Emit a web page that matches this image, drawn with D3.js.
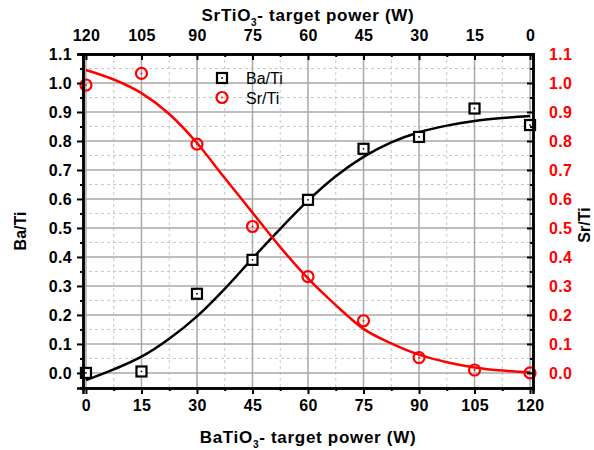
<html>
<head>
  <script src="https://cdnjs.cloudflare.com/ajax/libs/d3/7.8.5/d3.min.js"></script>
  <style>
    body { margin: 0; background: #fff; }
    text { font-family: "Liberation Sans", Arial, sans-serif; }
  </style>
</head>
<body>
  <script>
    // measured points
    const power = [0, 15, 30, 45, 60, 75, 90, 105, 120];
    const baTi = [0.0, 0.005, 0.273, 0.39, 0.597, 0.773, 0.814, 0.912, 0.855];
    const srTi = [0.993, 1.033, 0.789, 0.505, 0.332, 0.18, 0.053, 0.01, 0.0];

    // fitted curves
    const fitX = [0, 7.5, 15, 22.5, 30, 37.5, 45, 52.5, 60, 67.5, 75, 82.5, 90, 97.5, 105, 112.5, 120];
    const baFit = [-0.025, 0.012, 0.056, 0.118, 0.195, 0.29, 0.395, 0.497, 0.594, 0.678, 0.745, 0.795, 0.83, 0.853, 0.869, 0.879, 0.886];
    const srFit = [1.045, 1.012, 0.965, 0.893, 0.793, 0.672, 0.553, 0.434, 0.326, 0.234, 0.152, 0.102, 0.063, 0.037, 0.019, 0.008, 0.002];

    const xTicks = [0, 15, 30, 45, 60, 75, 90, 105, 120];
    const yTicks = [0, 0.1, 0.2, 0.3, 0.4, 0.5, 0.6, 0.7, 0.8, 0.9, 1.0, 1.1];

    const width = 594, height = 450;
    const margin = { top: 54, right: 61, bottom: 62, left: 83 };
    const iw = width - margin.left - margin.right;
    const ih = height - margin.top - margin.bottom;

    const svg = d3.select( "body" )
      .append( "svg" )
      .attr( "width", width )
      .attr( "height", height );

    const g = svg.append( "g" )
      .attr( "transform", `translate(${margin.left},${margin.top})` );

    const x = d3.scaleLinear().domain( [-0.8, 120.8] ).range( [0, iw] );
    const xTop = d3.scaleLinear().domain( [120.8, -0.8] ).range( [0, iw] );
    const y = d3.scaleLinear().domain( [-0.052, 1.1] ).range( [ih, 0] );

    const xMinor = d3.range( 7.5, 120, 15 );
    const yMinor = d3.range( 0, 11 ).map( i => +(0.05 + i * 0.1).toFixed( 2 ) );
    yMinor.push( -0.05 );

    // grid
    const grid = g.append( "g" );
    grid.selectAll( ".vminor" ).data( xMinor ).enter().append( "line" )
      .attr( "x1", d => x( d ) ).attr( "x2", d => x( d ) )
      .attr( "y1", 0 ).attr( "y2", ih )
      .attr( "stroke", "#c8c8c8" ).attr( "stroke-dasharray", "3,3" );
    grid.selectAll( ".hminor" ).data( yMinor ).enter().append( "line" )
      .attr( "y1", d => y( d ) ).attr( "y2", d => y( d ) )
      .attr( "x1", 0 ).attr( "x2", iw )
      .attr( "stroke", "#c8c8c8" ).attr( "stroke-dasharray", "3,3" );
    grid.selectAll( ".vmajor" ).data( xTicks ).enter().append( "line" )
      .attr( "x1", d => x( d ) ).attr( "x2", d => x( d ) )
      .attr( "y1", 0 ).attr( "y2", ih )
      .attr( "stroke", "#a8a8a8" ).attr( "stroke-width", 1.5 );
    grid.selectAll( ".hmajor" ).data( yTicks ).enter().append( "line" )
      .attr( "y1", d => y( d ) ).attr( "y2", d => y( d ) )
      .attr( "x1", 0 ).attr( "x2", iw )
      .attr( "stroke", "#a8a8a8" ).attr( "stroke-width", 1.5 );

    // fit curves
    const line = vals => d3.line()
      .x( ( d, i ) => x( fitX[i] ) )
      .y( d => y( d ) )
      .curve( d3.curveMonotoneX )( vals );

    g.append( "path" ).attr( "d", line( baFit ) )
      .attr( "fill", "none" ).attr( "stroke", "#000" ).attr( "stroke-width", 2.5 );
    g.append( "path" ).attr( "d", line( srFit ) )
      .attr( "fill", "none" ).attr( "stroke", "#f00" ).attr( "stroke-width", 2.5 );

    // markers
    const sq = g.append( "g" );
    sq.selectAll( "rect" ).data( power ).enter().append( "rect" )
      .attr( "x", ( d, i ) => x( d ) - 5 ).attr( "y", ( d, i ) => y( baTi[i] ) - 5 )
      .attr( "width", 10 ).attr( "height", 10 )
      .attr( "fill", "#fff" ).attr( "stroke", "#000" ).attr( "stroke-width", 2.2 );
    sq.selectAll( "circle" ).data( power ).enter().append( "circle" )
      .attr( "cx", d => x( d ) ).attr( "cy", ( d, i ) => y( baTi[i] ) )
      .attr( "r", 0.9 ).attr( "fill", "#000" );

    const ci = g.append( "g" );
    ci.selectAll( ".ring" ).data( power ).enter().append( "circle" )
      .attr( "cx", d => x( d ) ).attr( "cy", ( d, i ) => y( srTi[i] ) )
      .attr( "r", 5.5 ).attr( "fill", "none" )
      .attr( "stroke", "#f00" ).attr( "stroke-width", 2.2 );
    ci.selectAll( ".dot" ).data( power ).enter().append( "circle" )
      .attr( "cx", d => x( d ) ).attr( "cy", ( d, i ) => y( srTi[i] ) )
      .attr( "r", 0.9 ).attr( "fill", "#f00" );

    // axes
    const fmt = d3.format( ".1f" );
    const styleAxis = ( sel, color ) => {
      sel.selectAll( "text" )
        .style( "font-family", "'Liberation Sans', Arial, sans-serif" )
        .style( "font-size", "16px" ).style( "font-weight", "bold" )
        .style( "letter-spacing", "0.3px" )
        .attr( "fill", color || "#000" );
      sel.selectAll( "line" ).attr( "stroke", "#000" ).attr( "stroke-width", 2 );
      sel.select( ".domain" ).attr( "stroke", "#000" ).attr( "stroke-width", 2.5 );
    };

    const minorAxis = ( axisFn, scale, vals, len ) =>
      axisFn( scale ).tickValues( vals ).tickSize( len ).tickFormat( "" );

    // bottom
    g.append( "g" ).attr( "transform", `translate(0,${ih})` )
      .call( minorAxis( d3.axisBottom, x, xMinor, 3 ) ).call( styleAxis );
    g.append( "g" ).attr( "transform", `translate(0,${ih})` )
      .call( d3.axisBottom( x ).tickValues( xTicks ).tickSize( 6 ).tickPadding( 6 ) )
      .call( styleAxis );

    // top (reversed)
    g.append( "g" )
      .call( minorAxis( d3.axisBottom, xTop, xMinor, 3 ) ).call( styleAxis );
    g.append( "g" )
      .call( d3.axisTop( xTop ).tickValues( xTicks ).tickSize( -6 ).tickPadding( 13 ) )
      .call( styleAxis );

    // left
    g.append( "g" )
      .call( minorAxis( d3.axisLeft, y, yMinor, 3 ) ).call( styleAxis );
    g.append( "g" )
      .call( d3.axisLeft( y ).tickValues( yTicks ).tickSize( 6 ).tickPadding( 5 ).tickFormat( fmt ) )
      .call( styleAxis );

    // right
    g.append( "g" ).attr( "transform", `translate(${iw},0)` )
      .call( minorAxis( d3.axisLeft, y, yMinor, 3 ) ).call( styleAxis );
    g.append( "g" ).attr( "transform", `translate(${iw},0)` )
      .call( d3.axisRight( y ).tickValues( yTicks ).tickSize( -6 ).tickPadding( 16 ).tickFormat( fmt ) )
      .call( sel => styleAxis( sel, "#f00" ) );

    // axis titles
    const titleStyle = sel => sel
      .style( "font-size", "17px" ).style( "font-weight", "bold" ).attr( "fill", "#000" );

    const bt = svg.append( "text" ).attr( "x", 308 ).attr( "y", 443 )
      .attr( "text-anchor", "middle" ).call( titleStyle ).style( "letter-spacing", "0.7px" );
    bt.append( "tspan" ).text( "BaTiO" );
    bt.append( "tspan" ).text( "3" ).attr( "dy", 5 ).style( "font-size", "10px" );
    bt.append( "tspan" ).text( "- target power (W)" ).attr( "dy", -5 );

    const tt = svg.append( "text" ).attr( "x", 308 ).attr( "y", 21 )
      .attr( "text-anchor", "middle" ).call( titleStyle ).style( "letter-spacing", "0.7px" );
    tt.append( "tspan" ).text( "SrTiO" );
    tt.append( "tspan" ).text( "3" ).attr( "dy", 5 ).style( "font-size", "10px" );
    tt.append( "tspan" ).text( "- target power (W)" ).attr( "dy", -5 );

    svg.append( "text" ).text( "Ba/Ti" )
      .attr( "transform", "translate(26,231) rotate(-90)" )
      .attr( "text-anchor", "middle" ).call( titleStyle ).style( "font-size", "16px" );
    svg.append( "text" ).text( "Sr/Ti" )
      .attr( "transform", "translate(590,225) rotate(-90)" )
      .attr( "text-anchor", "middle" ).call( titleStyle ).style( "font-size", "16px" );

    // legend
    const lg = svg.append( "g" );
    lg.append( "rect" ).attr( "x", 217 ).attr( "y", 73 ).attr( "width", 10 ).attr( "height", 10 )
      .attr( "fill", "#fff" ).attr( "stroke", "#000" ).attr( "stroke-width", 2.2 );
    lg.append( "circle" ).attr( "cx", 222 ).attr( "cy", 78 ).attr( "r", 0.9 ).attr( "fill", "#000" );
    lg.append( "circle" ).attr( "cx", 222 ).attr( "cy", 97.5 ).attr( "r", 5.5 )
      .attr( "fill", "none" ).attr( "stroke", "#f00" ).attr( "stroke-width", 2.2 );
    lg.append( "circle" ).attr( "cx", 222 ).attr( "cy", 97.5 ).attr( "r", 0.9 ).attr( "fill", "#f00" );
    lg.append( "text" ).text( "Ba/Ti" ).attr( "x", 246 ).attr( "y", 84 )
      .style( "font-size", "16px" ).attr( "fill", "#000" );
    lg.append( "text" ).text( "Sr/Ti" ).attr( "x", 246 ).attr( "y", 104 )
      .style( "font-size", "16px" ).attr( "fill", "#000" );
  </script>
</body>
</html>
